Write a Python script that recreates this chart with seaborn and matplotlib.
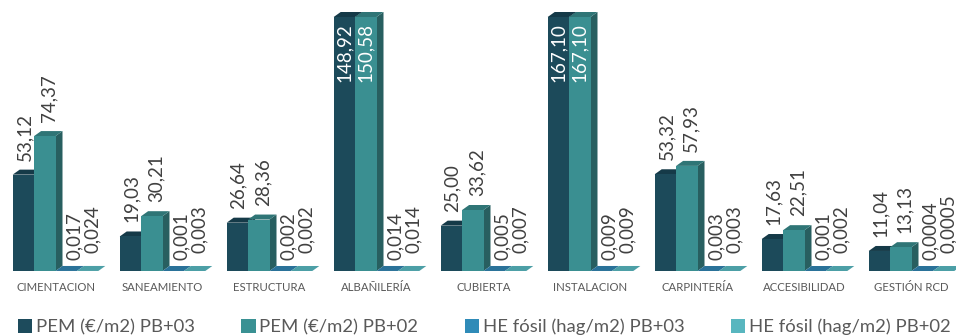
import matplotlib
matplotlib.use("Agg")
import matplotlib.pyplot as plt
from matplotlib.patches import Polygon, Patch
import pandas as pd
import seaborn as sns

# ---- data -------------------------------------------------------------
categories = ["CIMENTACION", "SANEAMIENTO", "ESTRUCTURA", "ALBAÑILERÍA", "CUBIERTA",
              "INSTALACION", "CARPINTERÍA", "ACCESIBILIDAD", "GESTIÓN RCD"]
series_names = ["PEM (€/m2) PB+03", "PEM (€/m2) PB+02",
                "HE fósil (hag/m2) PB+03", "HE fósil (hag/m2) PB+02"]
pem_pb03 = [53.12, 19.03, 26.64, 148.92, 25.00, 167.10, 53.32, 17.63, 11.04]
pem_pb02 = [74.37, 30.21, 28.36, 150.58, 33.62, 167.10, 57.93, 22.51, 13.13]
he_pb03 = [0.017, 0.001, 0.002, 0.014, 0.005, 0.009, 0.003, 0.001, 0.0004]
he_pb02 = [0.024, 0.003, 0.002, 0.014, 0.007, 0.009, 0.003, 0.002, 0.0005]

# ---- style ------------------------------------------------------------
front_colors = ["#1c4a5a", "#3a8f91", "#2d86b3", "#55b5bd"]
top_colors = ["#153a48", "#2f7576", "#2a7299", "#4c9fa6"]
side_colors = ["#143642", "#285f60", "#225f80", "#3f8a90"]
legend_colors = ["#1d4b5c", "#3a9193", "#2f8bb8", "#58b6bf"]
Y_MAX = 140.0          # value axis is capped here; taller bars are cut off
DEPTH_X, DEPTH_Y = 7, 5   # 3-D extrusion, pixels
FONT = "Lato"

df = pd.DataFrame({
    "categoria": categories * 4,
    "serie": sum([[n] * len(categories) for n in series_names], []),
    "valor": pem_pb03 + pem_pb02 + he_pb03 + he_pb02,
})

sns.set_theme(style="white")
plt.rcParams["font.family"] = [FONT, "DejaVu Sans"]

W, H = 956, 336
fig = plt.figure(figsize=(W / 100, H / 100), dpi=100)
base_px, top_px = 271, 17
ax = fig.add_axes([0, (H - base_px) / H, 1, (base_px - top_px) / H])

sns.barplot(data=df, x="categoria", y="valor", hue="serie", order=categories,
            hue_order=series_names, palette=front_colors, saturation=1,
            errorbar=None, width=0.8, linewidth=0, legend=False, ax=ax)

step_px, first_px = 107.0, 55.5
ax.set_xlim(-first_px / step_px, (W - first_px) / step_px)
ax.set_ylim(0, Y_MAX)
sx = step_px                      # pixels per x unit
sy = (base_px - top_px) / Y_MAX   # pixels per y unit
dx, dy = DEPTH_X / sx, DEPTH_Y / sy


def fmt(v, s):
    txt = f"{v:.2f}" if s < 2 else (f"{v:.3f}" if v >= 0.001 else f"{v:.4f}")
    return txt.replace(".", ",")


label_dx = [1, 4, 8, 5]
label_dy = [14, 14, 11, 18]
for s, cont in enumerate(ax.containers):
    for i, bar in enumerate(cont):
        bar.set_zorder(3 + s)
        x0, w = bar.get_x(), bar.get_width()
        v = bar.get_height()
        h = min(v, Y_MAX)
        top = Polygon([(x0, h), (x0 + w, h), (x0 + w + dx, h + dy), (x0 + dx, h + dy)],
                      closed=True, facecolor=top_colors[s], edgecolor="none",
                      zorder=2.5 + s, clip_on=False)
        side = Polygon([(x0 + w, 0), (x0 + w + dx, dy), (x0 + w + dx, h + dy), (x0 + w, h)],
                       closed=True, facecolor=side_colors[s], edgecolor="none",
                       zorder=2.5 + s, clip_on=False)
        ax.add_patch(side)
        ax.add_patch(top)
        xc = x0 + w / 2
        if v > Y_MAX:
            ax.annotate(fmt(v, s), (xc, Y_MAX), xytext=(0, -6), textcoords="offset pixels",
                        rotation=90, ha="center", va="top", color="white",
                        fontsize=13.5, zorder=10)
        else:
            ax.annotate(fmt(v, s), (xc, h), xytext=(label_dx[s], label_dy[s]),
                        textcoords="offset pixels", rotation=90, ha="center",
                        va="bottom", color="#404040", fontsize=13.5, zorder=10,
                        annotation_clip=False)

ax.set_xlabel("")
ax.set_ylabel("")
ax.set_yticks([])
ax.tick_params(axis="x", length=0, pad=8, labelsize=8.2, labelcolor="#595959")
for sp in ax.spines.values():
    sp.set_visible(False)

handles = [Patch(facecolor=c, edgecolor="none") for c in legend_colors]
fig.legend(handles, series_names, loc="center left", bbox_to_anchor=(18 / W, 1 - 327 / H),
           ncol=4, frameon=False, fontsize=13.3, labelcolor="#595959",
           handlelength=0.78, handleheight=0.78, handletextpad=0.2,
           columnspacing=2.5, borderpad=0, borderaxespad=0)

fig.savefig("out.png", dpi=100)
